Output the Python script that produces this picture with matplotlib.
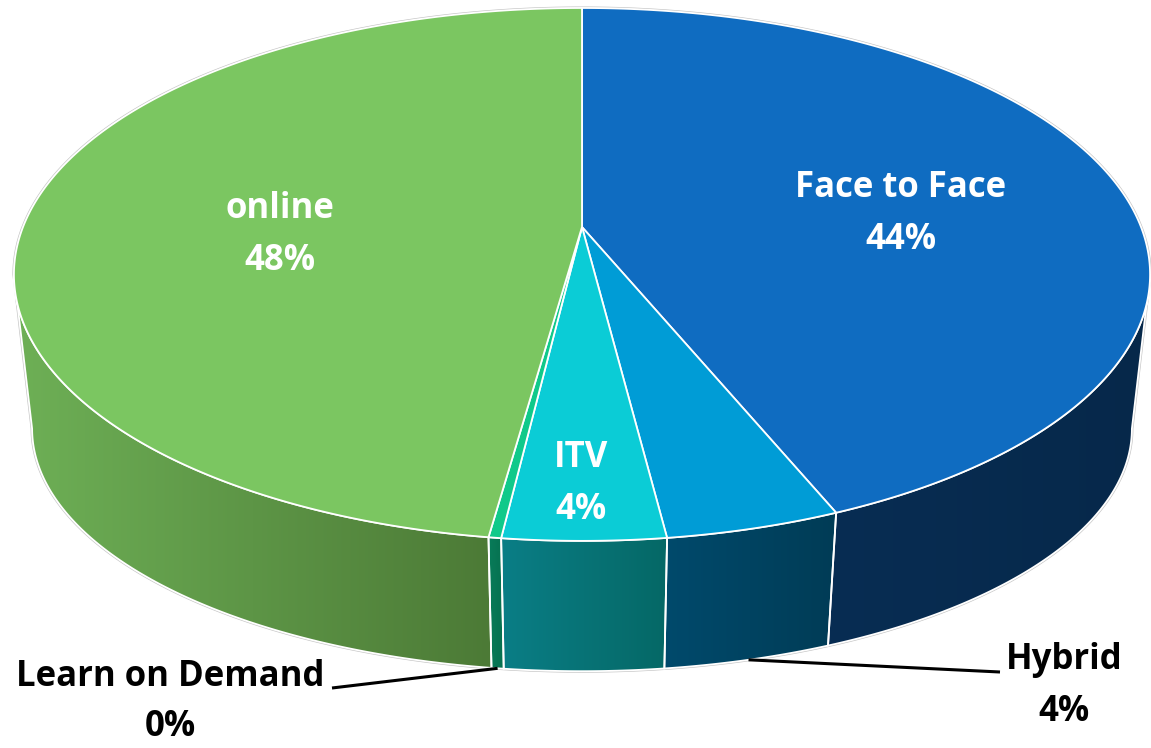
import numpy as np
import matplotlib
matplotlib.use("Agg")
import matplotlib.pyplot as plt
from matplotlib.patches import Polygon
from matplotlib.colors import LinearSegmentedColormap

# ---------------- data ----------------
categories = ["Face to Face", "Hybrid", "ITV", "Learn on Demand", "online"]
values = [43.8, 4.2, 3.9, 0.3, 47.8]
pct_labels = ["44%", "4%", "4%", "0%", "48%"]

top_colors = ["#0F6CC1", "#009CD6", "#0BCCD6", "#10C98A", "#7BC661"]
side_left = ["#082D53", "#004A6C", "#0A7E86", "#087C5A", "#6EB056"]
side_right = ["#06284A", "#003C56", "#056866", "#06704F", "#4C7A36"]
label_colors = ["white", "black", "white", "black", "white"]

# label layout (pixel coords of text block centre)
label_xy = [(901, 214), (1064, 686), (581, 484), (170, 702), (280, 235)]
label_spacing = [1.57, 1.57, 1.57, 1.50, 1.57]
leader_end = [None, (1000, 672), None, (332, 688), None]

# ---------------- geometry ----------------
W, H = 1151, 748
fig = plt.figure(figsize=(W / 100, H / 100), dpi=100)
ax = fig.add_axes([0, 0, 1, 1])
ax.set_xlim(0, W)
ax.set_ylim(H, 0)
ax.axis("off")

CX, CY = 582, 227
A, B, K = 258.0, 559.0, 0.178
SX, SA, SC = 0.968, 0.91, 179.0


def top_pt(theta_deg, r=1.0):
    t = np.radians(theta_deg)
    u = r * np.sin(t)
    v = r * np.cos(t)
    d = 1 + K * v
    return CX + B * u / d, CY - A * v / d


def bot_pt(theta_deg):
    x, y = top_pt(theta_deg)
    return CX + SX * (x - CX), SA * y + SC


vals = np.array(values, dtype=float)
bounds = np.concatenate([[0], np.cumsum(vals) / vals.sum() * 360.0])
th_r = np.degrees(np.arccos(-K))
th_l = 360.0 - th_r

# outer silhouette (grey thin outline)
back = np.linspace(th_l, 360 + th_r, 300)
front = np.linspace(th_r, th_l, 300)
sx = list(top_pt(back)[0]) + list(bot_pt(front)[0])
sy = list(top_pt(back)[1]) + list(bot_pt(front)[1])
sil = Polygon(np.column_stack([sx, sy]), closed=True, facecolor="none",
              edgecolor="#C4C4C4", lw=2.2, zorder=0.5)
ax.add_patch(sil)

# side walls with horizontal gradient
for i in range(len(vals)):
    a1, a2 = bounds[i], bounds[i + 1]
    lo, hi = max(a1, th_r), min(a2, th_l)
    if hi <= lo:
        continue
    ts = np.linspace(lo, hi, max(int((hi - lo) * 2), 4))
    tx, ty = top_pt(ts)
    bx, by = bot_pt(ts[::-1])
    pts = np.column_stack([np.concatenate([tx, bx]), np.concatenate([ty, by])])
    poly = Polygon(pts, closed=True, facecolor="none", edgecolor="white",
                   lw=1.3, zorder=2)
    ax.add_patch(poly)
    cmap = LinearSegmentedColormap.from_list("g%d" % i, [side_left[i], side_right[i]])
    x0, x1 = pts[:, 0].min(), pts[:, 0].max()
    y0, y1 = pts[:, 1].min(), pts[:, 1].max()
    im = ax.imshow(np.linspace(0, 1, 256)[None, :], cmap=cmap,
                   extent=(x0, x1, y1, y0), aspect="auto", zorder=1.5,
                   interpolation="bilinear")
    clip = Polygon(pts, closed=True, facecolor="none", edgecolor="none",
                   transform=ax.transData)
    ax.add_patch(clip)
    im.set_clip_path(clip)

# top face wedges
for i in range(len(vals)):
    a1, a2 = bounds[i], bounds[i + 1]
    ts = np.linspace(a1, a2, max(int((a2 - a1) * 3), 4))
    tx, ty = top_pt(ts)
    pts = np.column_stack([np.concatenate([[CX], tx]), np.concatenate([[CY], ty])])
    ax.add_patch(Polygon(pts, closed=True, facecolor=top_colors[i],
                         edgecolor="white", lw=1.3, joinstyle="round", zorder=3))

ax.set_xlim(0, W)
ax.set_ylim(H, 0)

# labels
for i in range(len(vals)):
    x, y = label_xy[i]
    ax.text(x, y, categories[i] + "\n" + pct_labels[i], ha="center", va="center",
            fontsize=25, fontweight="bold", family="Open Sans",
            color=label_colors[i], linespacing=label_spacing[i], zorder=5)
    if leader_end[i] is not None:
        mid = 0.5 * (bounds[i] + bounds[i + 1])
        bx, by = bot_pt(mid)
        ex, ey = leader_end[i]
        ax.plot([bx, ex], [by, ey], color="black", lw=2.2, zorder=4,
                solid_capstyle="butt")

fig.savefig("out.png", dpi=100)
